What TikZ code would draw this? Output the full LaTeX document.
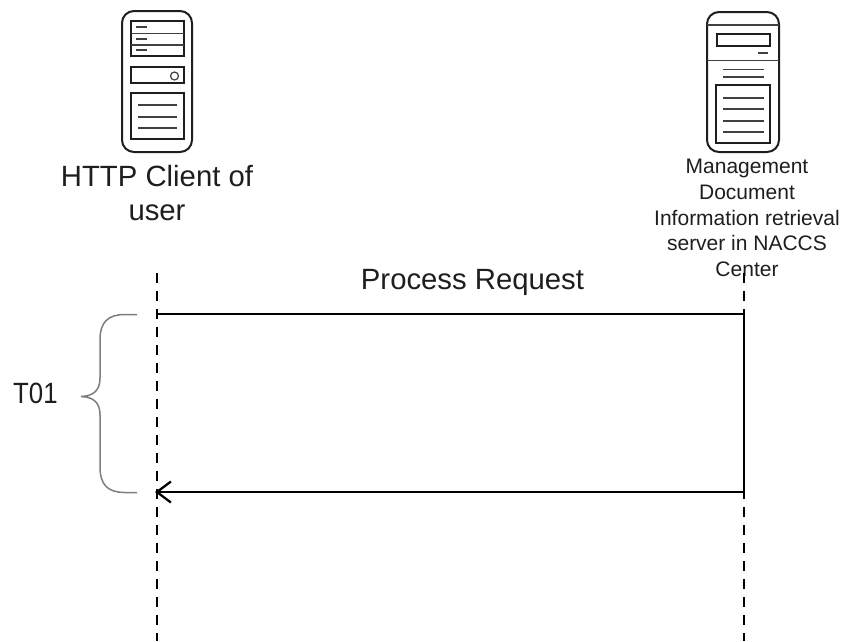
\documentclass[tikz,border=0pt]{standalone}
\usepackage{fontspec}
\setmainfont{Liberation Sans}
\usetikzlibrary{arrows.meta}
\definecolor{ink}{RGB}{30,30,30}
\definecolor{bracec}{RGB}{125,125,125}
\tikzset{
  casing/.style={draw=ink,line width=2pt,rounded corners=12pt},
  panel/.style={draw=ink,line width=2pt},
  thin line/.style={draw=ink!85,line width=1.2pt},
  lifeline/.style={draw=black,line width=2.3pt,dash pattern=on 10pt off 8pt},
  msg/.style={draw=black,line width=2.3pt},
  lbl/.style={text=ink,inner sep=0pt,align=center},
  bigtext/.style={lbl,font=\fontsize{29.3}{34}\selectfont},
  smalltext/.style={lbl,font=\fontsize{21}{25.8}\selectfont}
}
\begin{document}
\begin{tikzpicture}[x=1pt,y=-1pt]
\useasboundingbox (0,0) rectangle (842,641);
% client icon
\draw[casing] (122,11) rectangle (192,152);
\draw[panel] (131,21) rectangle (184,56);
\draw[thin line] (131,33.5) -- (184,33.5) (131,45) -- (184,45);
\draw[thin line] (136,27) -- (147,27) (136,39) -- (147,39) (136,50) -- (147,50);
\draw[panel] (131,67) rectangle (184,83);
\draw[thin line] (174.5,76) circle (4);
\draw[panel] (131,93) rectangle (184,139);
\draw[thin line] (138,105) -- (177,105) (138,117) -- (177,117) (138,128) -- (177,128);
% server icon
\draw[casing] (707,12) rectangle (779,152);
\draw[thin line] (707,25) -- (779,25) (707,60.5) -- (779,60.5);
\draw[panel] (717,34) rectangle (770,46);
\draw[thin line] (758,53) -- (768,53);
\draw[thin line] (723,69.5) -- (764,69.5) (723,77) -- (764,77);
\draw[panel] (716,85) rectangle (770,143);
\draw[thin line] (723,98) -- (764,98) (723,109) -- (764,109) (723,121) -- (764,121) (723,132) -- (764,132);
% labels
\node[bigtext] (client) at (157,193) {HTTP Client of\\user};
\node[smalltext] (server) at (747,218) {Management\\Document\\Information retrieval\\server in NACCS\\Center};
\node[bigtext] (req) at (472.5,282) {Process Request};
\node[bigtext,xscale=0.88,anchor=base west] (t01) at (13,403) {T01};
% lifelines
\coordinate (la) at (157,272.5);
\coordinate (lb) at (157,641);
\coordinate (ra) at (744,273);
\coordinate (rb) at (744,641);
\coordinate (p1) at (157,314);
\coordinate (p2) at (744,314);
\coordinate (q1) at (155,492);
\coordinate (q2) at (744,492);
\draw[lifeline] (la) -- (lb);
\draw[lifeline] (ra) -- (rb);
\draw[msg] (p1) -- (p2) -- (q2);
\draw[msg,-{Straight Barb[length=14pt,width=21pt,line width=2.3pt]}] (q2) -- (q1);
% brace
\draw[bracec,line width=1.5pt] (137,314.5) -- (125,314.5) .. controls (108,314.5) and (100,322) .. (100,340)
  -- (100,378) .. controls (100,390) and (94,396) .. (81,396.5)
  .. controls (94,397) and (100,403) .. (100,415)
  -- (100,467) .. controls (100,485) and (108,492.5) .. (125,492.5) -- (137,492.5);
\end{tikzpicture}
\end{document}
